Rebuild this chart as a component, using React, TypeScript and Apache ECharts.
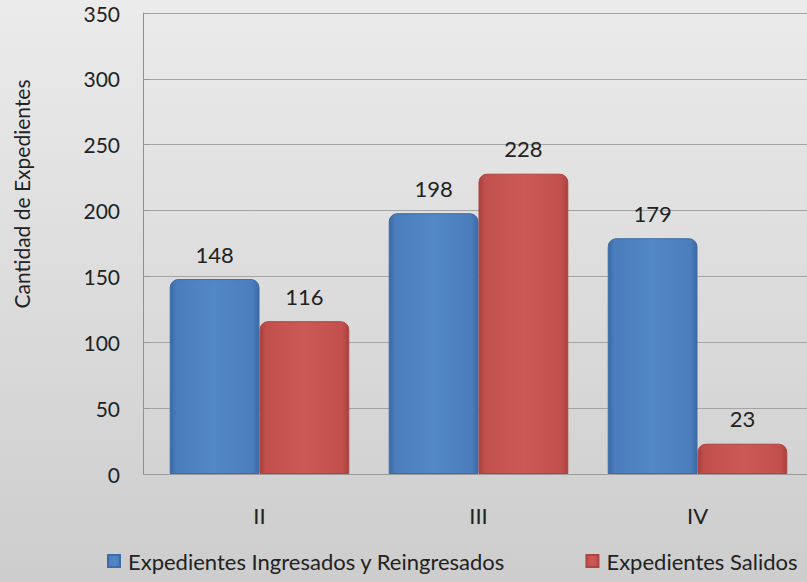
import React, { useEffect, useRef } from "react";
import * as echarts from "echarts";

const categories = ["II", "III", "IV"];
const ingresados = [148, 198, 179];
const salidos = [116, 228, 23];
const seriesNames = ["Expedientes Ingresados y Reingresados", "Expedientes Salidos"];
const yAxisTitle = "Cantidad de Expedientes";

const FONT = "Lato, 'Noto Sans', sans-serif";

function barGradient(dark: string, mid: string, light: string) {
  return new echarts.graphic.LinearGradient(0, 0, 1, 0, [
    { offset: 0, color: dark },
    { offset: 0.07, color: mid },
    { offset: 0.5, color: light },
    { offset: 0.93, color: mid },
    { offset: 1, color: dark },
  ]);
}

export default function App() {
  const ref = useRef<HTMLDivElement>(null);
  useEffect(() => {
    if (!ref.current) return;
    const chart = echarts.init(ref.current, undefined, { renderer: "svg" });
    chart.setOption({
      animation: false,
      backgroundColor: new echarts.graphic.LinearGradient(0, 0, 0, 1, [
        { offset: 0, color: "#ebebeb" },
        { offset: 1, color: "#cdcdcd" },
      ]),
      textStyle: { fontFamily: FONT },
      grid: { left: 150, right: -3, top: 13, bottom: 108, containLabel: false },
      graphic: [
        {
          type: "text",
          x: 21,
          y: 194,
          rotation: Math.PI / 2,
          style: {
            text: yAxisTitle,
            fontSize: 21,
            fontFamily: FONT,
            fill: "#222",
            align: "center",
            verticalAlign: "middle",
          },
        },
      ],
      legend: {
        left: 102,
        top: 545,
        width: 720,
        itemWidth: 12,
        itemHeight: 12,
        itemGap: 80,
        icon: "rect",
        textStyle: { fontFamily: FONT, fontSize: 22, color: "#222", padding: [0, 0, 0, 3] },
        data: seriesNames,
      },
      xAxis: {
        type: "category",
        data: categories,
        axisLine: { show: true, lineStyle: { color: "#9a9a9a" } },
        axisTick: { show: false },
        axisLabel: { fontSize: 22, color: "#222", margin: 30, fontFamily: FONT },
      },
      yAxis: {
        type: "value",
        min: 0,
        max: 350,
        interval: 50,
        offset: 7,
        axisLine: { show: true, lineStyle: { color: "#8f8f8f" } },
        axisTick: { show: true, length: 7, inside: true, lineStyle: { color: "#9a9a9a" } },
        axisLabel: { fontSize: 21, color: "#222", margin: 23, fontFamily: FONT },
        splitLine: { lineStyle: { color: "#a4a4a4", width: 1 } },
      },
      series: [
        {
          name: seriesNames[0],
          type: "bar",
          data: ingresados,
          barGap: "0%",
          barCategoryGap: "18%",
          itemStyle: {
            color: barGradient("#3a6aa3", "#4b7dbd", "#5288c6"),
            borderRadius: [8, 8, 0, 0],
            borderColor: "#3d6da8",
            borderWidth: 1,
          },
          label: {
            show: true,
            position: "top",
            distance: 14,
            fontSize: 22,
            color: "#222",
            fontFamily: FONT,
          },
        },
        {
          name: seriesNames[1],
          type: "bar",
          data: salidos,
          itemStyle: {
            color: barGradient("#a8403d", "#c1504d", "#cc5955"),
            borderRadius: [8, 8, 0, 0],
            borderColor: "#ad4542",
            borderWidth: 1,
          },
          label: {
            show: true,
            position: "top",
            distance: 14,
            fontSize: 22,
            color: "#222",
            fontFamily: FONT,
          },
        },
      ],
    });
    return () => chart.dispose();
  }, []);
  return <div ref={ref} style={{ width: 807, height: 582, position: "absolute", left: 0, top: 0 }} />;
}
